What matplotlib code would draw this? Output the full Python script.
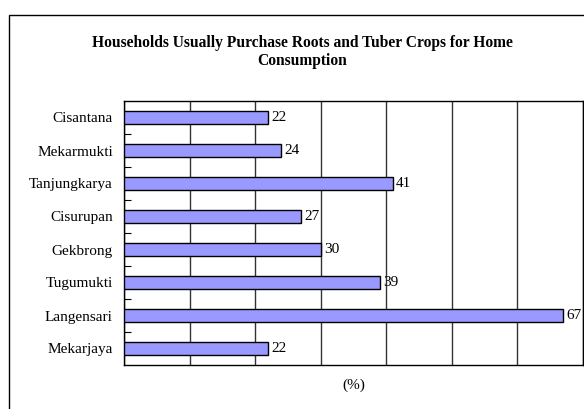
import matplotlib.pyplot as plt
from matplotlib.patches import Rectangle

# data, top to bottom as in the chart
villages = ['Cisantana', 'Mekarmukti', 'Tanjungkarya', 'Cisurupan',
            'Gekbrong', 'Tugumukti', 'Langensari', 'Mekarjaya']
percent = [22, 24, 41, 27, 30, 39, 67, 22]

plt.rcParams['font.family'] = ['Liberation Serif', 'DejaVu Serif']

fig = plt.figure(figsize=(5.84, 4.09), dpi=100)
ax = fig.add_axes([124 / 584, 1 - 365 / 409, 459 / 584, 264 / 409])

# outer frame of the chart area (runs off the right and bottom edge)
fig.patches.append(Rectangle((9 / 584, -0.05), 1.0, 1 - 15 / 409 + 0.05,
                             transform=fig.transFigure, fill=False,
                             edgecolor='black', linewidth=1.0))

ypos = list(range(len(villages)))[::-1]
ax.barh(ypos, percent, height=0.38, color='#9999FF', edgecolor='black',
        linewidth=1.0, zorder=3)

for y, v in zip(ypos, percent):
    ax.text(v + 0.5, y, str(v), va='center', ha='left', fontsize=11)

ax.set_xlim(0, 70)
ax.set_ylim(-0.5, len(villages) - 0.5)
ax.set_xticks(range(0, 71, 10))
ax.set_xticklabels([])
ax.tick_params(axis='x', length=0)
ax.xaxis.grid(True, color='#333333', linewidth=1.0, zorder=0)

ax.set_yticks(ypos)
ax.set_yticklabels(villages, fontsize=11)
ax.tick_params(axis='y', which='major', length=0, pad=8)
ax.set_yticks([y + 0.5 for y in range(len(villages) - 1)], minor=True)
ax.tick_params(axis='y', which='minor', direction='in', length=5, width=0.8)

for s in ax.spines.values():
    s.set_linewidth(1.0)

ax.set_xlabel('(%)', fontsize=11, labelpad=6)

fig.text(302 / 584, 1 - 52 / 409,
         'Households Usually Purchase Roots and Tuber Crops for Home\nConsumption',
         ha='center', va='center', fontsize=11.2, fontweight='bold',
         linespacing=1.2)

fig.savefig('out.png', dpi=100)
